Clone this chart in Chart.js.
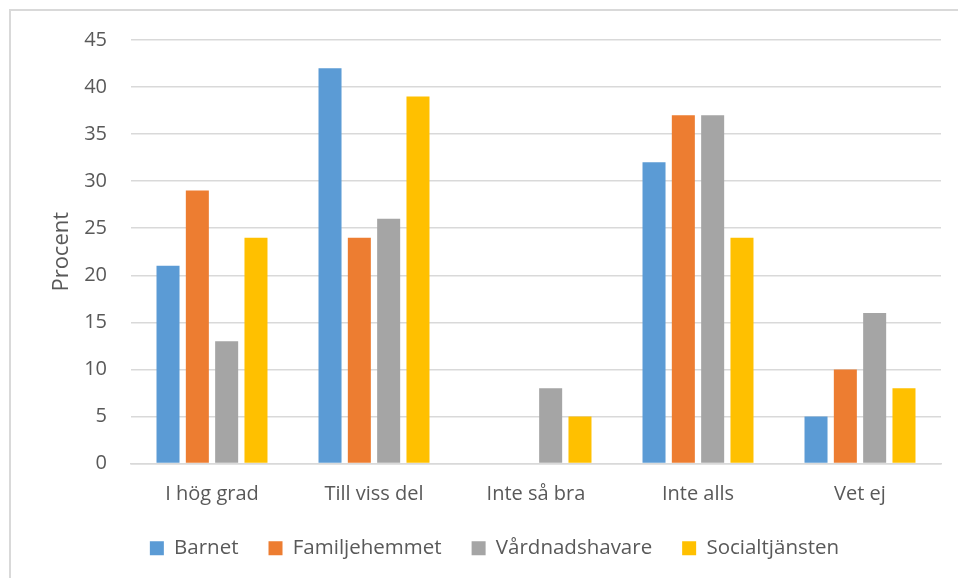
<!DOCTYPE html>
<html>
<head>
<meta charset="utf-8">
<script src="https://cdn.jsdelivr.net/npm/chart.js@4.4.0/dist/chart.umd.min.js"></script>
<style>
  html, body { margin: 0; padding: 0; background: #fff; }
  #wrap { position: relative; width: 958px; height: 578px; }
  #frame { position: absolute; left: 9px; top: 9px; width: 960px; height: 580px; border-left: 2px solid #d9d9d9; border-top: 2px solid #d9d9d9; box-sizing: border-box; pointer-events: none; }
  canvas { position: absolute; left: 0; top: 0; }
</style>
</head>
<body>
<div id="wrap">
  <canvas id="c" width="958" height="578"></canvas>
  <div id="frame"></div>
</div>
<script>
const categories = ['I hög grad', 'Till viss del', 'Inte så bra', 'Inte alls', 'Vet ej'];
const barnet = [21, 42, 0, 32, 5];
const familjehemmet = [29, 24, 0, 37, 10];
const vardnadshavare = [13, 26, 8, 37, 16];
const socialtjansten = [24, 39, 5, 24, 8];
const yTicks = [0, 5, 10, 15, 20, 25, 30, 35, 40, 45];

const FONT = '"Open Sans", Lato, sans-serif';
const TXT = '#595959';

new Chart(document.getElementById('c'), {
  type: 'bar',
  data: {
    labels: categories,
    datasets: [
      { label: 'Barnet', data: barnet, backgroundColor: '#5B9BD5' },
      { label: 'Familjehemmet', data: familjehemmet, backgroundColor: '#ED7D31' },
      { label: 'Vårdnadshavare', data: vardnadshavare, backgroundColor: '#A5A5A5' },
      { label: 'Socialtjänsten', data: socialtjansten, backgroundColor: '#FFC000' }
    ]
  },
  options: {
    responsive: false,
    animation: false,
    devicePixelRatio: 1,
    categoryPercentage: 0.724,
    barPercentage: 0.785,
    layout: { padding: { left: 48, top: 40, right: 17, bottom: 9.5 } },
    plugins: {
      tooltip: { enabled: false },
      legend: {
        position: 'bottom',
        labels: {
          color: TXT,
          font: { family: FONT, size: 20.5 },
          boxWidth: 14,
          boxHeight: 14,
          padding: 30
        }
      }
    },
    scales: {
      x: {
        grid: { display: false, drawTicks: false },
        border: { display: true, color: '#d9d9d9', width: 1.5 },
        ticks: { color: TXT, font: { family: FONT, size: 20 }, padding: 19 },
        afterFit: (s) => { s.height = 44.5; }
      },
      y: {
        min: 0, max: 45,
        afterBuildTicks: (s) => { s.ticks = yTicks.map(v => ({ value: v })); },
        grid: { color: '#d9d9d9', lineWidth: 1.5, drawTicks: false },
        border: { display: false },
        ticks: { color: TXT, font: { family: FONT, size: 20 }, padding: 24 },
        title: { display: true, text: 'Procent', color: TXT, font: { family: FONT, size: 22 }, padding: { top: 1, bottom: 0 } },
        afterFit: (s) => { s.width = 83; }
      }
    }
  }
});
</script>
</body>
</html>
